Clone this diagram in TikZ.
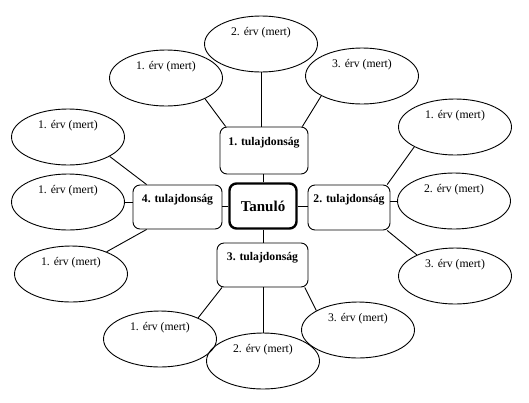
\documentclass[tikz,border=0pt]{standalone}
\usepackage{fontspec}
\setmainfont{Liberation Serif}
\usetikzlibrary{shapes.geometric}
\begin{document}
\begin{tikzpicture}[x=1pt,y=-1pt,
  arg/.style={draw, line width=0.9pt, ellipse, minimum width=113pt, minimum height=56pt, inner sep=0pt,
    text height=9pt, text depth=26pt, font=\fontsize{11.7}{14}\selectfont},
  prop/.style={draw, line width=0.9pt, rounded corners=7pt, inner sep=0pt,
    text height=9pt, text depth=19pt, font=\fontsize{11.7}{14}\selectfont\bfseries},
  conn/.style={line width=0.9pt}
]
\useasboundingbox (0,0) rectangle (529,402);

% central
\node[draw, line width=2.4pt, rounded corners=7pt, minimum width=67pt, minimum height=45pt, inner sep=0pt,
  font=\fontsize{15}{18}\selectfont\bfseries] (T) at (263,206) {Tanuló};

% properties
\node[prop, minimum width=88pt, minimum height=47pt] (t1) at (264,150.5) {1. tulajdonság};
\node[prop, minimum width=82pt, minimum height=45pt] (t2) at (349,207.5) {2. tulajdonság};
\node[prop, minimum width=91pt, minimum height=44pt] (t3) at (262.5,265) {3. tulajdonság};
\node[prop, minimum width=89pt, minimum height=44pt] (t4) at (177.5,207) {4. tulajdonság};

% arguments top
\node[arg] (a1) at (166,78) {1. érv (mert)};
\node[arg] (a2) at (261,44) {2. érv (mert)};
\node[arg] (a3) at (362,76) {3. érv (mert)};
% left
\node[arg] (b1) at (68,137) {1. érv (mert)};
\node[arg] (b2) at (68,202) {1. érv (mert)};
\node[arg] (b3) at (71,274) {1. érv (mert)};
% right
\node[arg] (c1) at (455,127) {1. érv (mert)};
\node[arg] (c2) at (454,201) {2. érv (mert)};
\node[arg] (c3) at (455,276) {3. érv (mert)};
% bottom
\node[arg] (d1) at (160,339) {1. érv (mert)};
\node[arg] (d2) at (263,361) {2. érv (mert)};
\node[arg] (d3) at (358,330) {3. érv (mert)};

% centre connectors
\draw[conn] (T.north) -- (T.north |- t1.south);
\draw[conn] (T.south) -- (T.south |- t3.north);
\draw[conn] (T.west) -- (T.west -| t4.east);
\draw[conn] (T.east) -- (T.east -| t2.west);

% top
\draw[conn] (a1.-28) -- (t1.148);
\draw[conn] (a2.south) -- (a2.south |- t1.north);
\draw[conn] (a3.-154) -- (t1.32);
% left
\draw[conn] (b1.-25) -- (t4.144);
\draw[conn] (b2.east) -- (b2.east -| t4.west);
\draw[conn] (b3.32) -- (t4.216);
% right
\draw[conn] (c1.206) -- (t2.31);
\draw[conn] (c2.west) -- (c2.west -| t2.east);
\draw[conn] (c3.151) -- (t2.-31);
% bottom
\draw[conn] (d1.29) -- (t3.209);
\draw[conn] (d2.north) -- (d2.north |- t3.south);
\draw[conn] (d3.155) -- (t3.-28.5);
\end{tikzpicture}
\end{document}
